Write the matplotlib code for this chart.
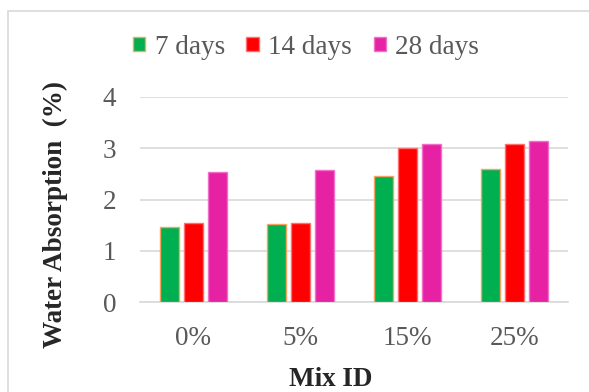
import matplotlib
matplotlib.use("Agg")
import matplotlib.pyplot as plt
from matplotlib.patches import Rectangle
import numpy as np

plt.rcParams['font.family'] = ['Liberation Serif', 'DejaVu Serif']

mixes = ["0%", "5%", "15%", "25%"]
series_names = ["7 days", "14 days", "28 days"]
days7 = [1.47, 1.53, 2.46, 2.59]
days14 = [1.55, 1.54, 3.01, 3.08]
days28 = [2.53, 2.57, 3.08, 3.15]
y_ticks = [0, 1, 2, 3, 4]

fills = ["#00B050", "#FF0000", "#E621A4"]
edges = ["#F4A460", "#FF6F6F", "#F070C8"]

fig = plt.figure(figsize=(5.89, 3.92), dpi=100)
fig.patch.set_facecolor("white")

# chart-area frame
fig.patches.append(Rectangle((8 / 589, -0.1), 1.1, 1 - 11 / 392 + 0.1,
                             transform=fig.transFigure, fill=False,
                             edgecolor="#D9D9D9", linewidth=1.2, zorder=0))

ax = fig.add_axes([140 / 589, 1 - 302 / 392, (568 - 140) / 589, (302 - 97) / 392])

x = np.arange(len(mixes))
width = 0.178
offset = 0.224
for i, (vals, name) in enumerate(zip([days7, days14, days28], series_names)):
    ax.bar(x + (i - 1) * offset, vals, width, color=fills[i],
           edgecolor=edges[i], linewidth=1.0, label=name, zorder=3)

ax.set_xlim(-0.5, len(mixes) - 0.5)
ax.set_ylim(0, 4)
ax.set_yticks(y_ticks)
ax.set_xticks(x)
ax.set_xticklabels(mixes)
ax.yaxis.grid(True, color="#D9D9D9", linewidth=1.2, zorder=0)
ax.set_axisbelow(True)
for s in ["top", "right", "left"]:
    ax.spines[s].set_visible(False)
ax.spines["bottom"].set_color("#D9D9D9")
ax.spines["bottom"].set_linewidth(1.2)
ax.tick_params(axis="both", length=0, labelsize=19.5, labelcolor="#595959")
ax.tick_params(axis="x", pad=17)
ax.tick_params(axis="y", pad=17)

fig.text(331 / 589, 1 - 379 / 392, "Mix ID", fontsize=19.5,
         fontweight="bold", color="#262626", ha="center", va="center")
fig.text(55 / 589, 1 - 215 / 392, "Water Absorption  (%)", fontsize=19.5,
         fontweight="bold", color="#262626", ha="center", va="center",
         rotation=90)

leg = fig.legend(*ax.get_legend_handles_labels(), loc="center",
                 bbox_to_anchor=(306 / 589, 1 - 47 / 392), ncol=3,
                 frameon=False, fontsize=19.5, handlelength=0.45, handleheight=0.45,
                 handletextpad=0.35, columnspacing=0.8, borderaxespad=0)
for t in leg.get_texts():
    t.set_color("#595959")

fig.savefig("out.png", dpi=100)
